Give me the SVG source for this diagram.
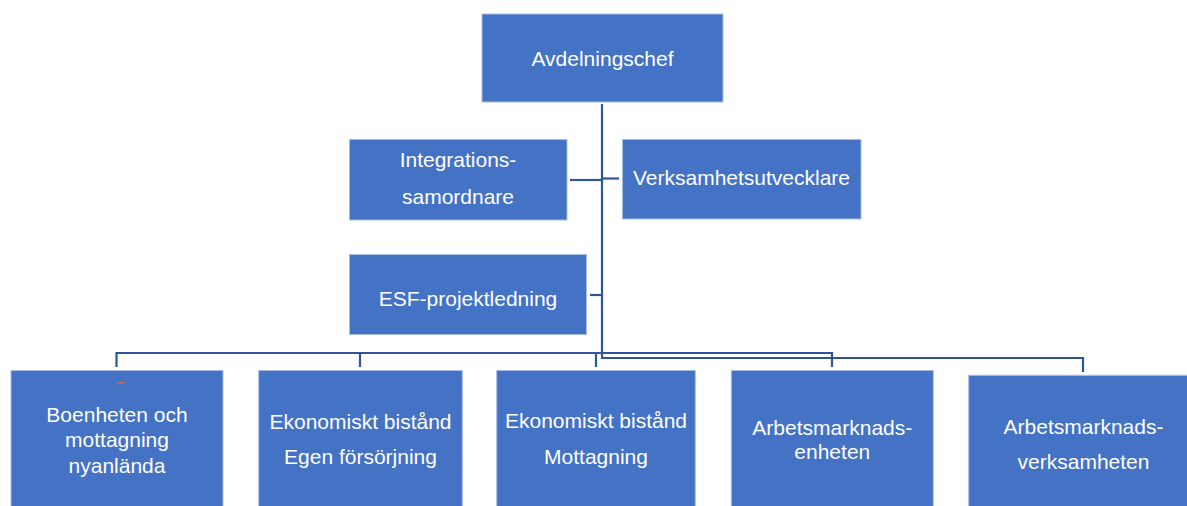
<svg xmlns="http://www.w3.org/2000/svg" width="1187" height="506" viewBox="0 0 1187 506">
<style>
.box{fill:#4472C4;stroke:#A7BDE6;stroke-width:1}
.lbl{font-family:"Liberation Sans",Arial,sans-serif;font-size:21px;fill:#FFFFFF;text-anchor:middle}
.conn{fill:none;stroke:#2F5597;stroke-width:2.2}
</style>
<rect width="1187" height="506" fill="#FFFFFF"/>
<g id="connectors">
<path class="conn" d="M602,104 V358 H1083 V372"/>
<path class="conn" d="M570,180 H602"/>
<path class="conn" d="M602,178.5 H619"/>
<path class="conn" d="M590,295 H602"/>
<path class="conn" d="M116.5,367 V353 H832 V367"/>
<path class="conn" d="M360,353 V367"/>
<path class="conn" d="M596,353 V367"/>
</g>
<g id="avdelningschef">
<rect class="box" x="482" y="14" width="241" height="88"/>
<text class="lbl" x="602.5" y="65.5">Avdelningschef</text>
</g>
<g id="integrationssamordnare">
<rect class="box" x="349.5" y="139.5" width="217.5" height="80.5"/>
<text class="lbl" x="458" y="167.3">Integrations-</text>
<text class="lbl" x="458" y="204">samordnare</text>
</g>
<g id="verksamhetsutvecklare">
<rect class="box" x="622.5" y="139.5" width="238.5" height="79.5"/>
<text class="lbl" x="741.5" y="185">Verksamhetsutvecklare</text>
</g>
<g id="esf-projektledning">
<rect class="box" x="349.5" y="254.5" width="237" height="80"/>
<text class="lbl" x="468" y="306">ESF-projektledning</text>
</g>
<g id="boenheten">
<rect class="box" x="11" y="370.5" width="212" height="140"/>
<line x1="117" y1="382.7" x2="125" y2="382.7" stroke="#C47070" stroke-width="1.3"/>
<text class="lbl" x="117" y="421.7">Boenheten och</text>
<text class="lbl" x="117" y="447.3">mottagning</text>
<text class="lbl" x="117" y="473.3">nyanlända</text>
</g>
<g id="ekonomiskt-egen">
<rect class="box" x="258.7" y="370.5" width="203.6" height="140"/>
<text class="lbl" x="360.5" y="429.3">Ekonomiskt bistånd</text>
<text class="lbl" x="360.5" y="464.3">Egen försörjning</text>
</g>
<g id="ekonomiskt-mottagning">
<rect class="box" x="496.7" y="370.5" width="198.6" height="140"/>
<text class="lbl" x="596" y="428.3">Ekonomiskt bistånd</text>
<text class="lbl" x="596" y="464">Mottagning</text>
</g>
<g id="arbetsmarknadsenheten">
<rect class="box" x="731.3" y="370.5" width="202" height="140"/>
<text class="lbl" x="832.3" y="434.7">Arbetsmarknads-</text>
<text class="lbl" x="832.3" y="459.3">enheten</text>
</g>
<g id="arbetsmarknadsverksamheten">
<rect class="box" x="968.7" y="375.3" width="230" height="140"/>
<text class="lbl" x="1083.5" y="434">Arbetsmarknads-</text>
<text class="lbl" x="1083.5" y="469.3">verksamheten</text>
</g>
</svg>
